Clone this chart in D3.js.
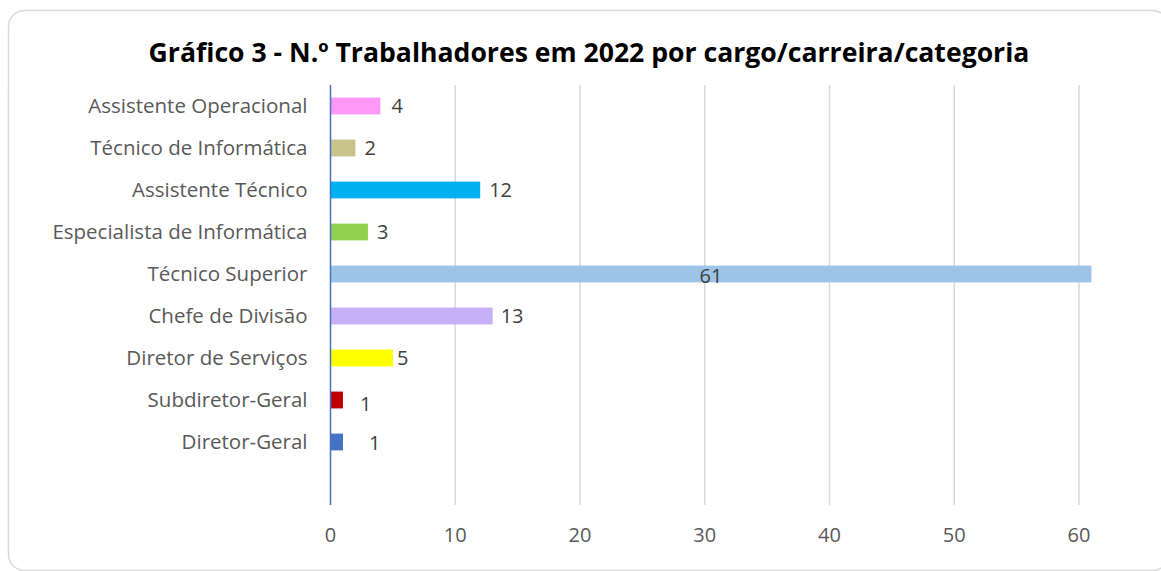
<!DOCTYPE html>
<html>
<head>
<meta charset="utf-8">
<script src="https://cdn.jsdelivr.net/npm/d3@7"></script>
<style>
body { margin: 0; background: #fff; }
text { font-family: "Open Sans", "Noto Sans", sans-serif; }
</style>
</head>
<body>
<div id="chart"></div>
<script>
// categories from top to bottom ("" is the empty slot at the bottom of the axis)
var categories = ["Assistente Operacional", "Técnico de Informática", "Assistente Técnico",
	"Especialista de Informática", "Técnico Superior", "Chefe de Divisão",
	"Diretor de Serviços", "Subdiretor-Geral", "Diretor-Geral", ""];
var values = [4, 2, 12, 3, 61, 13, 5, 1, 1];
var barColors = ["#ff99f7", "#c9c48c", "#00b0f0", "#92d050", "#9dc3e6", "#c8b0f7", "#ffff00", "#c00000", "#4472c4"];
var xTicks = [0, 10, 20, 30, 40, 50, 60];

// manual nudges of the value labels (the original has hand-placed labels)
var labelDx = [11, 9, 9, 9, 0, 8, 4, 17, 26];
var labelDy = [0, 0, 0, 0, 2, 0, 0, 4, 1];

var W = 1161, H = 571;
var margin = { top: 85, right: 82, bottom: 67, left: 330.5 };

var svg = d3.select("#chart").append("svg")
	.attr("width", W)
	.attr("height", H);

svg.append("rect")
	.attr("x", 8.5).attr("y", 10.5)
	.attr("width", 1160).attr("height", 560)
	.attr("rx", 16)
	.attr("fill", "#fff")
	.attr("stroke", "#d9d9d9")
	.attr("stroke-width", 1.5);

svg.append("text")
	.attr("x", 589)
	.attr("y", 62)
	.attr("text-anchor", "middle")
	.style("font-size", "26.6px")
	.style("font-weight", "bold")
	.style("fill", "#000")
	.text("Gráfico 3 - N.º Trabalhadores em 2022 por cargo/carreira/categoria");

var g = svg.append("g")
	.attr("transform", "translate(" + margin.left + "," + margin.top + ")");

var x = d3.scaleLinear()
	.domain([0, 60])
	.range([0, 748.5]);

var y = d3.scaleBand()
	.domain(categories)
	.range([0, 420])
	.paddingInner(0.6)
	.paddingOuter(0.3);

// gridlines
g.selectAll("line.grid")
	.data(xTicks.slice(1))
	.enter().append("line")
	.attr("class", "grid")
	.attr("x1", function(d){ return x(d); })
	.attr("x2", function(d){ return x(d); })
	.attr("y1", 0)
	.attr("y2", 420)
	.style("stroke", "#d9d9d9")
	.style("stroke-width", "1.5px");

// x tick labels
g.selectAll("text.xtick")
	.data(xTicks)
	.enter().append("text")
	.attr("class", "xtick")
	.attr("x", function(d){ return x(d); })
	.attr("y", 457)
	.attr("text-anchor", "middle")
	.style("font-size", "20px")
	.style("fill", "#595959")
	.text(function(d){ return d; });

var data = values.map(function(v, i){ return { cat: categories[i], v: v, c: barColors[i], i: i }; });

g.selectAll("rect.bar")
	.data(data)
	.enter().append("rect")
	.attr("class", "bar")
	.attr("x", 0)
	.attr("y", function(d){ return y(d.cat); })
	.attr("width", function(d){ return x(d.v); })
	.attr("height", y.bandwidth())
	.style("fill", function(d){ return d.c; });

// vertical axis line
g.append("line")
	.attr("x1", 0).attr("x2", 0)
	.attr("y1", 0).attr("y2", 420)
	.style("stroke", "#4472c4")
	.style("stroke-width", "1.5px");

// category labels
g.selectAll("text.cat")
	.data(categories.filter(function(c){ return c !== ""; }))
	.enter().append("text")
	.attr("class", "cat")
	.attr("x", -23)
	.attr("y", function(d){ return y(d) + y.bandwidth() / 2; })
	.attr("dy", "0.35em")
	.attr("text-anchor", "end")
	.style("font-size", "20.5px")
	.style("fill", "#595959")
	.text(function(d){ return d; });

// value labels
g.selectAll("text.val")
	.data(data)
	.enter().append("text")
	.attr("class", "val")
	.attr("x", function(d){ return d.v > 50 ? x(d.v / 2) : x(d.v) + labelDx[d.i]; })
	.attr("y", function(d){ return y(d.cat) + y.bandwidth() / 2 + labelDy[d.i]; })
	.attr("dy", "0.35em")
	.attr("text-anchor", function(d){ return d.v > 50 ? "middle" : "start"; })
	.style("font-size", "20px")
	.style("fill", "#404040")
	.text(function(d){ return d.v; });
</script>
</body>
</html>
